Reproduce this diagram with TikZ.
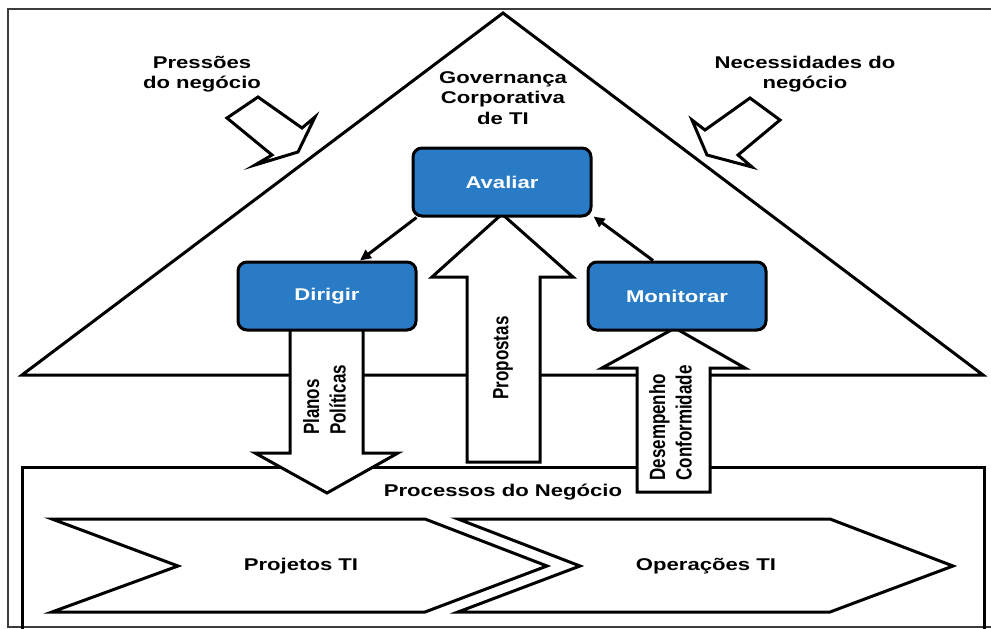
\documentclass[tikz,border=0pt]{standalone}
\usepackage{fontspec}
\newfontfamily\lblfont[FakeStretch=1.3]{Liberation Sans}
\newfontfamily\rotfont{Liberation Sans}
\usetikzlibrary{arrows.meta}
\definecolor{govblue}{RGB}{40,123,196}
\definecolor{framegray}{RGB}{60,60,60}

\begin{document}
\begin{tikzpicture}[x=1pt, y=-1pt,
    lbl/.style={font=\lblfont\bfseries\fontsize{17}{20.5}\selectfont, align=center, inner sep=0pt},
    vlbl/.style={rotate=90, font=\rotfont\bfseries\fontsize{17}{20.5}\selectfont, inner sep=0pt},
    govbox/.style={draw, line width=3pt, fill=govblue, rounded corners=9pt, minimum width=178pt, minimum height=68pt, text=white, lbl},
    outline/.style={draw, line width=3pt},
    blockarrow/.style={draw, fill=white, line width=3pt},
    conn/.style={line width=3pt, -{Triangle[length=11pt, width=10pt]}}]

    \useasboundingbox (0,0) rectangle (991,629);
    \draw[framegray, line width=1.5pt] (1000,9) -- (8,9) -- (8,627) -- (1000,627);

    % governance triangle and business processes
    \draw[outline] (22,375) -- (503,13) -- (983,375) -- cycle;
    \draw[outline] (22,467) rectangle (984,640);

    \draw[outline, fill=white] (52,519) -- (425,519) -- (547,566) -- (425,612) -- (52,612) -- (178,566) -- cycle;
    \draw[outline, fill=white] (458,519) -- (830,519) -- (953,566) -- (830,612) -- (458,612) -- (580,566) -- cycle;

    % block arrows
    \draw[blockarrow] (467,462) -- (467,277) -- (432,277) -- (502,214) -- (573,277) -- (540,277) -- (540,462) -- cycle;
    \draw[blockarrow] (290,320) -- (290,453) -- (255,453) -- (327,493) -- (398,453) -- (363,453) -- (363,320) -- cycle;
    \draw[blockarrow] (637,492) -- (637,368) -- (602,368) -- (675,328) -- (745,368) -- (710,368) -- (710,492) -- cycle;

    \draw[blockarrow] (258,97) -- (302,128) -- (315,117) -- (298,152) -- (255,165) -- (272,155) -- (227,118) -- cycle;
    \draw[blockarrow] (750,98) -- (780,120) -- (738,155) -- (752,167) -- (707,155) -- (692,120) -- (705,130) -- cycle;

    % process boxes
    \node[govbox] (avaliar) at (502,182) {Avaliar};
    \node[govbox] (dirigir) at (327,296) {Dirigir};
    \node[govbox] (monitorar) at (677,296) {Monitorar};

    \draw[conn] ([xshift=5pt]avaliar.south west) -- ([xshift=33pt]dirigir.north);
    \draw[conn] ([xshift=-24pt]monitorar.north) -- ([xshift=1pt,yshift=1pt]avaliar.south east);

    % labels
    \node[lbl] (pressoes) at (202,74) {Pressões\\do negócio};
    \node[lbl] (necessidades) at (805,74) {Necessidades do\\negócio};
    \node[lbl] (governanca) at (503,98) {Governança\\Corporativa\\de TI};
    \node[lbl] (processos) at (503,492) {Processos do Negócio};
    \node[lbl] (projetos) at (301,566) {Projetos TI};
    \node[lbl] (operacoes) at (706,566) {Operações TI};

    \node[vlbl] (planos) at (327,400) {\scalebox{1}[1.3]{\begin{tabular}{@{}l@{}}Planos\\Políticas\end{tabular}}};
    \node[vlbl] (propostas) at (503,358) {\scalebox{1}[1.3]{Propostas}};
    \node[vlbl] (desempenho) at (673,423) {\scalebox{1}[1.3]{\begin{tabular}{@{}l@{}}Desempenho\\Conformidade\end{tabular}}};
\end{tikzpicture}
\end{document}
